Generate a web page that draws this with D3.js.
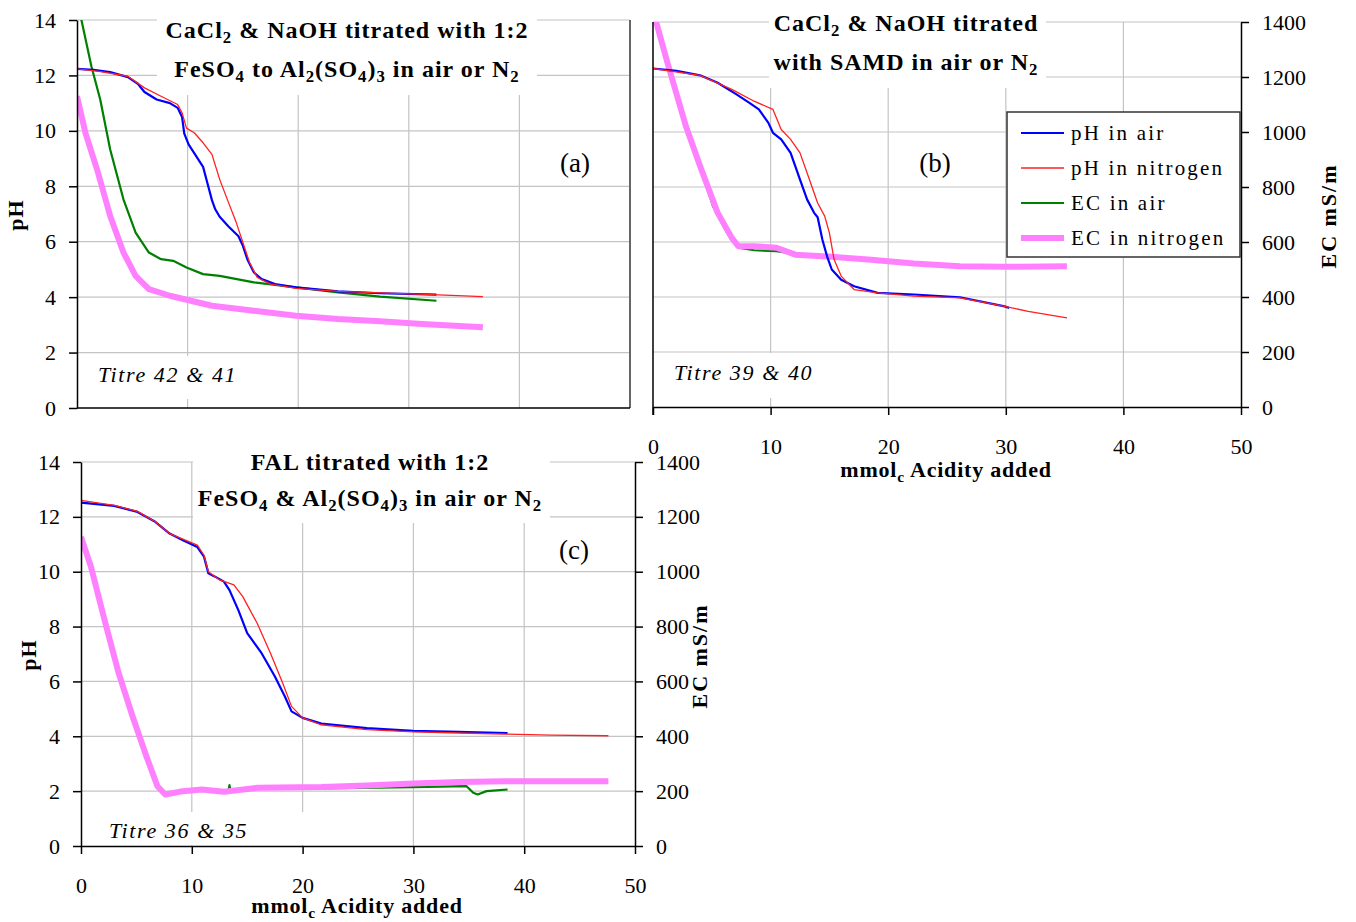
<!DOCTYPE html>
<html>
<head>
<meta charset="utf-8">
<script src="https://cdn.jsdelivr.net/npm/d3@7"></script>
<style>
  body { margin: 0; background: #fff; }
  svg { display: block; font-family: "Liberation Serif", "Times New Roman", serif; }
</style>
</head>
<body>
<svg id="chart" width="1356" height="922"></svg>
<script>
// x = mmolc acidity added, pH series in pH units, EC series in mS/m
const xTicks = [0, 10, 20, 30, 40, 50];
const phTicks = [0, 2, 4, 6, 8, 10, 12, 14];
const ecTicks = [0, 200, 400, 600, 800, 1000, 1200, 1400];

// panel (a)
const phAirA = [[0,12.24],[1.5,12.2],[3,12.12],[4.6,11.94],[5.5,11.7],[6.1,11.4],[7.2,11.13],[8.4,11.0],[9.1,10.83],[9.5,10.5],[9.7,9.9],[10.1,9.5],[10.6,9.2],[11.4,8.7],[11.8,8.1],[12.2,7.5],[12.5,7.17],[12.9,6.9],[13.7,6.55],[14.6,6.2],[15.0,5.85],[15.4,5.37],[16.0,4.89],[16.7,4.65],[17.9,4.47],[19.8,4.35],[23.6,4.21],[27.4,4.14],[32.5,4.09]];
const phN2A = [[0,12.24],[2,12.15],[4.6,11.97],[6.1,11.55],[7.6,11.25],[9.1,10.95],[9.5,10.65],[9.9,10.1],[10.6,9.93],[11.4,9.57],[12.2,9.15],[12.9,8.25],[13.7,7.41],[14.4,6.69],[14.8,6.21],[15.2,5.73],[15.6,5.25],[16.3,4.71],[17.5,4.47],[19.8,4.32],[23.6,4.21],[32.7,4.08],[36.7,4.02]];
const ecAirA = [[0,1475],[0.4,1400],[1.3,1233],[2.1,1113],[3.0,933],[4.2,753],[5.3,633],[6.5,561],[7.6,537],[8.7,531],[9.9,507],[11.4,483],[12.9,477],[16.0,453],[19.8,435],[23.6,417],[27.4,402],[32.5,387]];
const ecN2A = [[0,1125],[0.76,993],[1.9,849],[3.0,693],[4.2,561],[5.3,477],[6.5,429],[8.4,405],[10.3,387],[12.2,369],[16.0,351],[19.8,333],[23.6,321],[27.4,313],[31.2,303],[36.7,291]];

// panel (b)
const phAirB = [[0,12.31],[2,12.22],[4,12.06],[5.5,11.79],[7.1,11.37],[8.2,11.06],[9.0,10.82],[9.8,10.34],[10.2,9.97],[10.9,9.73],[11.7,9.24],[12.5,8.27],[13.1,7.55],[13.7,7.06],[14.0,6.9],[14.4,6.09],[14.8,5.48],[15.2,5.0],[16.0,4.63],[17.1,4.39],[19.1,4.15],[22.2,4.09],[26.1,3.99],[29.9,3.66],[30.3,3.6]];
const phN2B = [[0,12.31],[4,12.06],[6.7,11.55],[8.6,11.12],[10.2,10.82],[10.9,10.09],[11.7,9.73],[12.5,9.24],[13.3,8.27],[14.0,7.42],[14.6,6.94],[15.0,6.33],[15.4,5.36],[16.0,4.76],[17.1,4.27],[19.1,4.15],[22.2,4.03],[26.1,3.97],[29.9,3.66],[31.9,3.48],[35.2,3.24]];
const ecAirB = [[0,1470],[0.27,1400],[1.24,1264],[2.8,1021],[4.0,876],[5.1,730],[6.3,633],[7.25,579],[8.6,570],[10.5,567],[12.5,554],[15.2,548],[18.3,536],[22.2,524],[24.7,518]];
const ecN2B = [[0,1470],[0.27,1400],[1.24,1250],[2.8,1021],[4.0,876],[5.5,706],[6.7,615],[7.25,585],[8.6,585],[10.5,579],[12.1,554],[15.2,546],[18.3,536],[22.2,522],[26.1,512],[29.9,510],[35.2,512]];

// panel (c)
const phAirC = [[0,12.52],[3,12.4],[5.1,12.18],[6.7,11.82],[8.0,11.39],[9.2,11.15],[10.5,10.9],[11.1,10.55],[11.5,9.94],[12.1,9.82],[12.9,9.64],[13.4,9.33],[14.2,8.6],[15.0,7.76],[16.3,7.03],[17.5,6.18],[18.4,5.45],[19.0,4.91],[20.0,4.67],[21.7,4.46],[25.8,4.3],[30.0,4.2],[34.1,4.16],[38.5,4.12]];
const phN2C = [[0,12.6],[3,12.42],[5.1,12.2],[6.7,11.82],[8.0,11.39],[10.5,10.97],[11.1,10.6],[11.5,10.0],[12.5,9.7],[13.8,9.52],[14.6,9.09],[15.9,8.12],[17.1,7.03],[18.2,5.94],[19.0,5.09],[20.0,4.67],[21.7,4.42],[25.8,4.24],[30.0,4.16],[34.1,4.12],[38.3,4.08],[42.4,4.04],[47.6,4.02]];
const ecAirC = [[0,1127],[0.9,1018],[2.2,812],[3.4,630],[4.65,473],[5.9,327],[6.9,218],[7.6,188],[9.2,200],[10.9,206],[13.3,200],[13.4,222],[13.5,202],[15.9,210],[21.7,210],[30.0,215],[34.8,218],[35.4,194],[35.8,188],[36.6,200],[38.5,206]];
const ecN2C = [[0,1127],[0.9,1018],[2.2,812],[3.4,630],[4.65,473],[5.9,327],[6.9,218],[7.6,188],[9.2,200],[10.9,206],[12.9,198],[15.9,212],[21.7,215],[25.8,221],[30.0,228],[34.1,233],[38.3,236],[47.6,236]];

const seriesNames = ["pH in air", "pH in nitrogen", "EC in air", "EC in nitrogen"];

const styles = {
  phAir: { color: "#0000ff", width: 2.2 },
  phN2: { color: "#ff2020", width: 1.3 },
  ecAir: { color: "#008000", width: 2.2 },
  ecN2: { color: "#ff80ff", width: 6 },
};

const panels = [
  {
    id: "a", x0: 77, x1: 630, top: 20, bottom: 408,
    data: { phAir: phAirA, phN2: phN2A, ecAir: ecAirA, ecN2: ecN2A },
    title: ["CaCl{2} & NaOH titrated with 1:2", "FeSO{4} to Al{2}(SO{4}){3} in air or N{2}"],
    titleX: 347, titleY: [38, 77], titleBox: [157, 0, 380, 95],
    tag: "(a)", tagX: 575, tagY: 172,
    titre: "Titre 42 & 41", titreX: 98, titreY: 382, titreBox: [90, 356, 160, 43],
    left: true, right: false, bottomLabels: false, frame: true,
    pHTitle: [23, 215],
  },
  {
    id: "b", x0: 653, x1: 1241, top: 22, bottom: 407,
    data: { phAir: phAirB, phN2: phN2B, ecAir: ecAirB, ecN2: ecN2B },
    title: ["CaCl{2} & NaOH titrated", "with SAMD in air or N{2}"],
    titleX: 906, titleY: [31, 70], titleBox: [769, 0, 277, 88],
    tag: "(b)", tagX: 935, tagY: 172,
    titre: "Titre 39 & 40", titreX: 674, titreY: 380, titreBox: [664, 353, 165, 45],
    left: false, right: true, bottomLabels: true, legend: true,
    ecTitle: [1336, 216], xTitle: [946, 477],
  },
  {
    id: "c", x0: 81, x1: 635, top: 462, bottom: 846,
    data: { phAir: phAirC, phN2: phN2C, ecAir: ecAirC, ecN2: ecN2C },
    title: ["FAL titrated with 1:2", "FeSO{4} & Al{2}(SO{4}){3} in air or N{2}"],
    titleX: 370, titleY: [470, 506], titleBox: [193, 440, 357, 83],
    tag: "(c)", tagX: 574, tagY: 559,
    titre: "Titre 36 & 35", titreX: 109, titreY: 838, titreBox: [100, 812, 210, 33],
    left: true, right: true, bottomLabels: true,
    pHTitle: [36, 655], ecTitle: [707, 656], xTitle: [357, 913],
  },
];

const svg = d3.select("#chart");

// text with {subscript} parts
function rich(text, str, size) {
  const re = /([^{]+)|\{([^}]*)\}/g;
  let m, down = false;
  while ((m = re.exec(str))) {
    if (m[1] !== undefined) {
      text.append("tspan").attr("dy", down ? -size * 0.22 : 0).text(m[1]);
      down = false;
    } else {
      text.append("tspan").attr("dy", down ? 0 : size * 0.22)
        .attr("font-size", size * 0.7).text(m[2]);
      down = true;
    }
  }
  return text;
}

function boldLabel(str, x, y, rotate, spacing) {
  const t = svg.append("text")
    .attr("transform", `translate(${x},${y})` + (rotate ? " rotate(-90)" : ""))
    .attr("text-anchor", "middle")
    .attr("font-size", 22).attr("font-weight", "bold")
    .attr("letter-spacing", spacing);
  rich(t, str, 22);
}

panels.forEach((p) => {
  const x = d3.scaleLinear().domain([0, 50]).range([p.x0, p.x1]);
  const yPh = d3.scaleLinear().domain([0, 14]).range([p.bottom, p.top]);
  const yEc = d3.scaleLinear().domain([0, 1400]).range([p.bottom, p.top]);
  const g = svg.append("g");

  // grid
  g.append("g").selectAll("line").data(phTicks.slice(1)).join("line")
    .attr("x1", p.x0).attr("x2", p.x1)
    .attr("y1", (d) => yPh(d)).attr("y2", (d) => yPh(d))
    .attr("stroke", "#c4c4c4").attr("stroke-width", 1.2);
  g.append("g").selectAll("line").data(xTicks.slice(1, -1)).join("line")
    .attr("x1", (d) => x(d)).attr("x2", (d) => x(d))
    .attr("y1", p.top).attr("y2", p.bottom)
    .attr("stroke", "#c4c4c4").attr("stroke-width", 1.2);

  // white boxes behind the title and titre
  [p.titleBox, p.titreBox].forEach((b) => {
    g.append("rect").attr("x", b[0]).attr("y", b[1])
      .attr("width", b[2]).attr("height", b[3]).attr("fill", "#fff");
  });

  // series
  const clipId = "clip-" + p.id;
  svg.append("clipPath").attr("id", clipId).append("rect")
    .attr("x", p.x0).attr("y", p.top)
    .attr("width", p.x1 - p.x0).attr("height", p.bottom - p.top);
  const lines = g.append("g").attr("clip-path", `url(#${clipId})`);
  ["ecAir", "ecN2", "phAir", "phN2"].forEach((key) => {
    const y = key.startsWith("ec") ? yEc : yPh;
    const line = d3.line().x((d) => x(d[0])).y((d) => y(d[1]));
    lines.append("path").datum(p.data[key])
      .attr("d", line).attr("fill", "none")
      .attr("stroke", styles[key].color)
      .attr("stroke-width", styles[key].width)
      .attr("stroke-linejoin", "round");
  });

  // axes
  const styleAxis = (sel) => {
    sel.attr("font-family", null);
    sel.select(".domain").attr("stroke", "#000").attr("stroke-width", 1.5);
    sel.selectAll(".tick line").attr("stroke", "#000").attr("stroke-width", 1.5);
    sel.selectAll("text").attr("font-size", 22).attr("fill", "#000");
  };
  const fmt = d3.format("d");

  if (p.left) {
    g.append("g").attr("transform", `translate(${p.x0},0)`)
      .call(d3.axisLeft(yPh).tickValues(phTicks).tickFormat(fmt)
        .tickSize(8).tickPadding(13).tickSizeOuter(0))
      .call(styleAxis);
  } else {
    g.append("line").attr("x1", p.x0).attr("x2", p.x0)
      .attr("y1", p.top).attr("y2", p.bottom + 8)
      .attr("stroke", "#000").attr("stroke-width", 1.5);
  }

  if (p.right) {
    g.append("g").attr("transform", `translate(${p.x1},0)`)
      .call(d3.axisRight(yEc).tickValues(ecTicks).tickFormat(fmt)
        .tickSize(8).tickPadding(13).tickSizeOuter(0))
      .call(styleAxis);
  } else if (p.frame) {
    g.append("line").attr("x1", p.x1).attr("x2", p.x1)
      .attr("y1", p.top).attr("y2", p.bottom)
      .attr("stroke", "#666").attr("stroke-width", 2);
  }

  if (p.bottomLabels) {
    g.append("g").attr("transform", `translate(0,${p.bottom})`)
      .call(d3.axisBottom(x).tickValues(xTicks).tickFormat(fmt)
        .tickSize(8).tickPadding(23).tickSizeOuter(0))
      .call(styleAxis);
  } else {
    g.append("line").attr("x1", p.x0).attr("x2", p.x1)
      .attr("y1", p.bottom).attr("y2", p.bottom)
      .attr("stroke", "#000").attr("stroke-width", 1.5);
  }

  // title
  p.title.forEach((str, i) => {
    const t = g.append("text").attr("x", p.titleX).attr("y", p.titleY[i])
      .attr("text-anchor", "middle").attr("font-size", 24)
      .attr("font-weight", "bold").attr("letter-spacing", 1);
    rich(t, str, 24);
  });

  g.append("text").attr("x", p.tagX).attr("y", p.tagY)
    .attr("text-anchor", "middle").attr("font-size", 27).text(p.tag);

  g.append("text").attr("x", p.titreX).attr("y", p.titreY)
    .attr("font-size", 22).attr("font-style", "italic")
    .attr("letter-spacing", 1.6).text(p.titre);

  if (p.pHTitle) boldLabel("pH", p.pHTitle[0], p.pHTitle[1], true, 1);
  if (p.ecTitle) boldLabel("EC mS/m", p.ecTitle[0], p.ecTitle[1], true, 2);
  if (p.xTitle) boldLabel("mmol{c} Acidity added", p.xTitle[0], p.xTitle[1], false, 0.8);

  if (p.legend) {
    const lg = g.append("g");
    lg.append("rect").attr("x", 1007).attr("y", 112)
      .attr("width", 233).attr("height", 145)
      .attr("fill", "#fff").attr("stroke", "#333").attr("stroke-width", 1.5);
    const keys = ["phAir", "phN2", "ecAir", "ecN2"];
    const row = d3.scalePoint().domain(keys).range([133, 238]);
    keys.forEach((k, i) => {
      lg.append("line").attr("x1", 1021).attr("x2", 1064)
        .attr("y1", row(k)).attr("y2", row(k))
        .attr("stroke", styles[k].color).attr("stroke-width", styles[k].width);
      lg.append("text").attr("x", 1071).attr("y", row(k)).attr("dy", "0.35em")
        .attr("font-size", 21).attr("letter-spacing", 2.2).text(seriesNames[i]);
    });
  }
});
</script>
</body>
</html>
